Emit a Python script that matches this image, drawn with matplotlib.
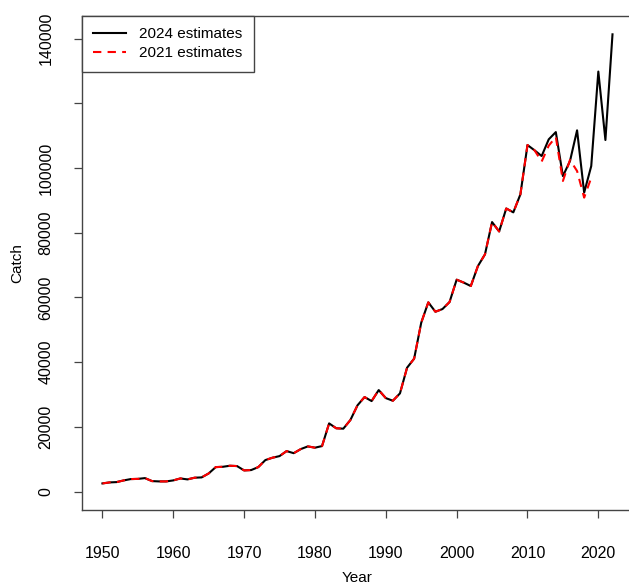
import numpy as np
import matplotlib
matplotlib.use("Agg")
import matplotlib.pyplot as plt

plt.rcParams['font.family'] = ['Liberation Sans', 'DejaVu Sans']

years_2024 = list(range(1950, 2023))
catch_2024 = [
    2560, 2870, 2970, 3490, 3900, 3960, 4200, 3280, 3180, 3180,
    3490, 4100, 3800, 4320, 4420, 5650, 7600, 7700, 8020, 7920,
    6580, 6690, 7600, 9770, 10500, 11000, 12550, 11900, 13170, 14000,
    13600, 14100, 21100, 19600, 19470, 22140, 26670, 29240, 28000, 31400,
    28920, 28100, 30380, 38300, 41100, 52200, 58500, 55600, 56430, 58600,
    65500, 64600, 63540, 69700, 73330, 83300, 80400, 87500, 86300, 91860,
    107100, 105460, 103700, 108860, 111100, 97500, 102150, 111650, 92400, 100600,
    129800, 108650, 141300,
]

years_2021 = list(range(1950, 2020))
catch_2021 = catch_2024[:62] + [
    102000, 106900, 109600, 96000, 102500, 99070, 90850, 97000,
]

fig = plt.figure(figsize=(6.29, 5.85), dpi=100)
ax = fig.add_axes([0.1304, 0.1282, 0.8758, 0.8444])

ax.plot(years_2024, catch_2024, color="black", lw=1.5, label="2024 estimates")
ax.plot(years_2021, catch_2021, color="red", lw=1.5, ls=(0, (4, 3)), label="2021 estimates")

ymax = max(catch_2024)
ax.set_xlim(1950 - 0.04 * 72, 2022 + 0.04 * 72)
ax.set_ylim(-0.04 * ymax, ymax * 1.04)

ax.set_xticks(range(1950, 2021, 10))
yt = list(range(0, 140001, 20000))
ax.set_yticks(yt)
# R drops the 120000 label because it would overlap its neighbours
ax.set_yticklabels([("" if v == 120000 else str(v)) for v in yt],
                   rotation=90, va="center")

for s in ax.spines.values():
    s.set_color("#444444")
    s.set_linewidth(1.0)
ax.tick_params(direction="out", length=6, width=0.9, color="#444444",
               labelsize=11.5)
ax.tick_params(axis="x", pad=20)
ax.tick_params(axis="y", pad=14.5)

ax.set_xlabel("Year", fontsize=11, labelpad=7)
ax.set_ylabel("Catch", fontsize=11, labelpad=10)

leg = ax.legend(loc="upper left", borderaxespad=0, fancybox=False,
                edgecolor="#444444", framealpha=1, fontsize=11,
                handlelength=2.1, handletextpad=0.9,
                borderpad=0.75, labelspacing=0.3)
leg.get_frame().set_linewidth(1.0)

fig.savefig("out.png", dpi=100)
